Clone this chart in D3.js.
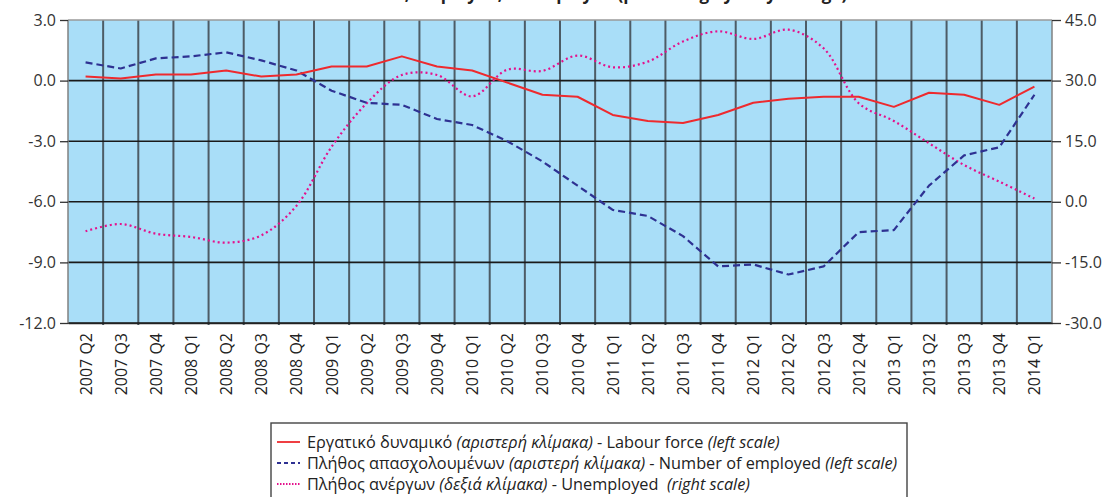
<!DOCTYPE html>
<html>
<head>
<meta charset="utf-8">
<script src="https://cdn.jsdelivr.net/npm/d3@7"></script>
<style>
  body { margin: 0; background: #fff; }
  svg { display: block; font-family: "Open Sans", "Noto Sans", sans-serif; }
</style>
</head>
<body>
<svg id="chart" width="1107" height="497"></svg>
<script>
// data (yearly % change)
var categories = ["2007 Q2","2007 Q3","2007 Q4","2008 Q1","2008 Q2","2008 Q3","2008 Q4",
  "2009 Q1","2009 Q2","2009 Q3","2009 Q4","2010 Q1","2010 Q2","2010 Q3","2010 Q4",
  "2011 Q1","2011 Q2","2011 Q3","2011 Q4","2012 Q1","2012 Q2","2012 Q3","2012 Q4",
  "2013 Q1","2013 Q2","2013 Q3","2013 Q4","2014 Q1"];

var labourForce = [0.2, 0.1, 0.3, 0.3, 0.5, 0.2, 0.3, 0.7, 0.7, 1.2, 0.7, 0.5, -0.1, -0.7,
  -0.8, -1.7, -2.0, -2.1, -1.7, -1.1, -0.9, -0.8, -0.8, -1.3, -0.6, -0.7, -1.2, -0.3];

var employed = [0.9, 0.6, 1.1, 1.2, 1.4, 1.0, 0.5, -0.5, -1.1, -1.2, -1.9, -2.2, -3.0, -4.0,
  -5.2, -6.4, -6.7, -7.7, -9.2, -9.1, -9.6, -9.2, -7.5, -7.4, -5.2, -3.7, -3.3, -0.7];

var unemployed = [-7.3, -5.5, -7.9, -8.7, -10.1, -8.3, -1.0, 13.6, 24.4, 31.4, 31.4, 26.1,
  32.7, 32.4, 36.2, 33.3, 34.7, 39.7, 42.2, 40.3, 42.6, 38.0, 24.4, 20.0, 14.5, 9.1, 5.0, 0.8];

var leftTicks = [3, 0, -3, -6, -9, -12];
var rightTicks = [45, 30, 15, 0, -15, -30];

var title = "Labour force, employed, unemployed (percentage yearly change)";

var legendItems = [
  { gr: "Εργατικό δυναμικό ", grIt: "(αριστερή κλίμακα)", en: " - Labour force ", enIt: "(left scale)", key: "labour" },
  { gr: "Πλήθος απασχολουμένων ", grIt: "(αριστερή κλίμακα)", en: " - Number of employed ", enIt: "(left scale)", key: "employed" },
  { gr: "Πλήθος ανέργων ", grIt: "(δεξιά κλίμακα)", en: " - Unemployed  ", enIt: "(right scale)", key: "unemployed" }
];

//  sizing (note: "top" is taken by window.top, so plot* names)
var svg = d3.select("#chart"),
    plotLeft = 68, plotRight = 1052, plotTop = 20, plotBottom = 323;

var styles = {
  labour:     { color: "#ee2a2e", dash: null,  width: 2 },
  employed:   { color: "#2e3192", dash: "7,4", width: 2.2 },
  unemployed: { color: "#e4118c", dash: "2,3", width: 2.2 }
};

//  scales
var x = d3.scaleBand().domain(categories).range([plotLeft, plotRight]).padding(0);
var yL = d3.scaleLinear().domain([-12, 3]).range([plotBottom, plotTop]);
var yR = d3.scaleLinear().domain([-30, 45]).range([plotBottom, plotTop]);

// plot background
svg.append("rect")
  .attr("x", plotLeft).attr("y", plotTop)
  .attr("width", plotRight - plotLeft).attr("height", plotBottom - plotTop)
  .attr("fill", "#a9def8");

// vertical grid at category borders
svg.append("g").selectAll("line")
  .data(categories.slice(1))
  .enter().append("line")
  .attr("x1", function(d) { return x(d); })
  .attr("x2", function(d) { return x(d); })
  .attr("y1", plotTop).attr("y2", plotBottom + 2)
  .attr("stroke", "#4d5c66").attr("stroke-width", 2);

// horizontal grid
svg.append("g").selectAll("line")
  .data(leftTicks.slice(1))
  .enter().append("line")
  .attr("x1", plotLeft).attr("x2", plotRight)
  .attr("y1", function(d) { return yL(d); })
  .attr("y2", function(d) { return yL(d); })
  .attr("stroke", "#1a1a1a").attr("stroke-width", 1.6);

// frame
svg.append("line").attr("x1", plotLeft).attr("x2", plotRight).attr("y1", plotTop).attr("y2", plotTop)
  .attr("stroke", "#9a9a9a").attr("stroke-width", 1.5);
svg.append("line").attr("x1", plotLeft).attr("x2", plotLeft).attr("y1", plotTop).attr("y2", plotBottom)
  .attr("stroke", "#808080").attr("stroke-width", 1.5);
svg.append("line").attr("x1", plotRight).attr("x2", plotRight).attr("y1", plotTop).attr("y2", plotBottom)
  .attr("stroke", "#808080").attr("stroke-width", 1.5);

// axes
var fmt = function(d) { return d.toFixed(1); };

var axL = svg.append("g")
  .attr("transform", "translate(" + plotLeft + ",0)")
  .call(d3.axisLeft(yL).tickValues(leftTicks).tickFormat(fmt).tickSize(8).tickPadding(4));
var axR = svg.append("g")
  .attr("transform", "translate(" + plotRight + ",0)")
  .call(d3.axisRight(yR).tickValues(rightTicks).tickFormat(fmt).tickSize(9).tickPadding(4));

[axL, axR].forEach(function(ax) {
  ax.select(".domain").remove();
  ax.selectAll("line").attr("stroke", "#333").attr("stroke-width", 1.3);
  ax.selectAll("text").attr("font-size", 16).attr("fill", "#333")
    .attr("font-family", "'Open Sans', sans-serif");
});

// x labels, rotated
var axB = svg.append("g")
  .attr("transform", "translate(0," + plotBottom + ")")
  .call(d3.axisBottom(x).tickSize(0).tickPadding(0));
axB.select(".domain").attr("stroke", "#222").attr("stroke-width", 1.6);
axB.selectAll("text")
  .attr("font-size", 16).attr("fill", "#222")
  .attr("font-family", "'Open Sans', sans-serif")
  .attr("text-anchor", "end")
  .attr("dy", null).attr("y", 0)
  .attr("transform", "translate(6,10) rotate(-90)");

// lines
var xc = function(i) { return x(categories[i]) + x.bandwidth() / 2; };

function drawLine(values, scale, st, curve) {
  var gen = d3.line()
    .x(function(d, i) { return xc(i); })
    .y(function(d) { return scale(d); })
    .curve(curve);
  svg.append("path")
    .datum(values)
    .attr("d", gen)
    .attr("fill", "none")
    .attr("stroke", st.color)
    .attr("stroke-width", st.width)
    .attr("stroke-dasharray", st.dash)
    .attr("stroke-linejoin", "round");
}

drawLine(unemployed, yR, styles.unemployed, d3.curveCatmullRom.alpha(0.5));
drawLine(employed, yL, styles.employed, d3.curveLinear);
drawLine(labourForce, yL, styles.labour, d3.curveLinear);

// title, cut by the top edge as in the picture
svg.append("text")
  .attr("x", 572).attr("y", 0)
  .attr("text-anchor", "middle")
  .attr("font-size", 17).attr("font-weight", "bold").attr("fill", "#222")
  .text(title);

// legend
var lg = svg.append("g");
lg.append("rect")
  .attr("x", 271).attr("y", 423)
  .attr("width", 636).attr("height", 90)
  .attr("fill", "#fff").attr("stroke", "#444").attr("stroke-width", 1.4);

legendItems.forEach(function(it, i) {
  var cy = 442 + i * 21;
  var st = styles[it.key];
  lg.append("line")
    .attr("x1", 277).attr("x2", 300).attr("y1", cy).attr("y2", cy)
    .attr("stroke", st.color).attr("stroke-width", 1.8)
    .attr("stroke-dasharray", it.key === "unemployed" ? "1.5,1.5" : (it.key === "employed" ? "4,3" : null));
  var t = lg.append("text")
    .attr("x", 307).attr("y", cy + 5.5)
    .attr("font-size", 16.3).attr("fill", "#222")
    .attr("xml:space", "preserve");
  t.append("tspan").text(it.gr);
  t.append("tspan").attr("font-style", "italic").text(it.grIt);
  t.append("tspan").text(it.en);
  t.append("tspan").attr("font-style", "italic").text(it.enIt);
});
</script>
</body>
</html>
